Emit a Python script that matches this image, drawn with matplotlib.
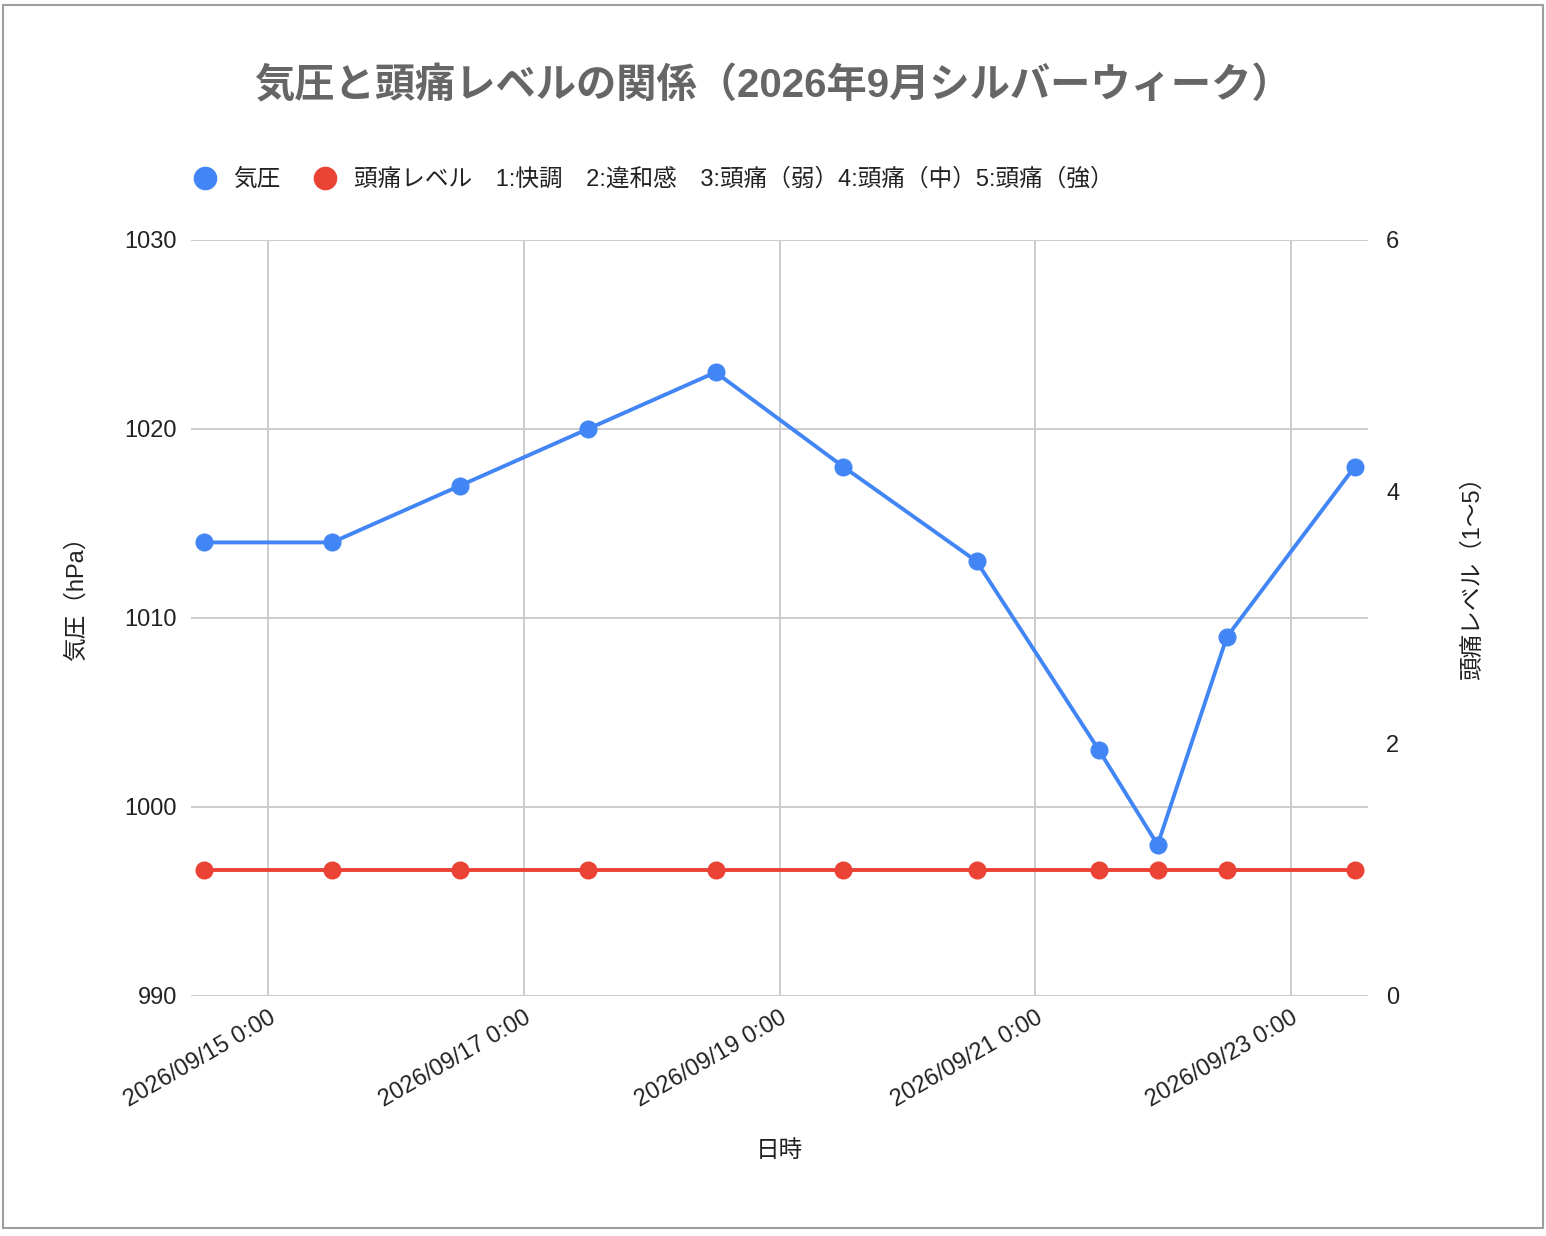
import matplotlib
matplotlib.use("Agg")
import matplotlib.pyplot as plt
import matplotlib.dates as mdates
from matplotlib.lines import Line2D
from matplotlib.patches import Rectangle
from matplotlib.ticker import FuncFormatter, MultipleLocator
import pandas as pd

plt.rcParams['font.family'] = ['Liberation Sans', 'Noto Sans CJK JP', 'DejaVu Sans']

# ---- data ----
timestamps = ["2026-09-14 12:00", "2026-09-15 12:00", "2026-09-16 12:00", "2026-09-17 12:00",
              "2026-09-18 12:00", "2026-09-19 12:00", "2026-09-20 13:00", "2026-09-21 12:00",
              "2026-09-21 23:00", "2026-09-22 12:00", "2026-09-23 12:00"]
pressure = [1014, 1014, 1017, 1020, 1023, 1018, 1013, 1003, 998, 1009, 1018]
headache = [1, 1, 1, 1, 1, 1, 1, 1, 1, 1, 1]
x_ticks = ["2026-09-15", "2026-09-17", "2026-09-19", "2026-09-21", "2026-09-23"]

title = "気圧と頭痛レベルの関係（2026年9月シルバーウィーク）"
label_pressure = "気圧"
label_headache = "頭痛レベル　1:快調　2:違和感　3:頭痛（弱）4:頭痛（中）5:頭痛（強）"
xlabel = "日時"
ylabel_left = "気圧（hPa）"
ylabel_right = "頭痛レベル（1〜5）"

BLUE = "#4285F4"
RED = "#EA4335"
GRID = "#cccccc"
FS = 17

t = pd.to_datetime(timestamps)
ticks = pd.to_datetime(x_ticks)

W, H = 1546, 1236
fig = plt.figure(figsize=(W / 100, H / 100), dpi=100)
fig.patch.set_facecolor("white")

# chart frame
fig.patches.append(Rectangle((3 / W, 1 - 1228 / H), 1540 / W, 1223 / H,
                             transform=fig.transFigure, fill=False,
                             edgecolor="#9e9e9e", lw=1.5))

ax = fig.add_axes([191 / W, 1 - 996 / H, 1177 / W, 756 / H])
ax2 = ax.twinx()

ax.plot(t, pressure, color=BLUE, lw=2.8, marker="o", markersize=12, zorder=3)
ax2.plot(t, headache, color=RED, lw=2.8, marker="o", markersize=12, zorder=3)

pad = pd.Timedelta(hours=2.5)
ax.set_xlim(t.min() - pad, t.max() + pad)
ax.set_ylim(990, 1030)
ax.yaxis.set_major_locator(MultipleLocator(10))
ax2.set_ylim(0, 6)
ax2.yaxis.set_major_locator(MultipleLocator(2))

ax.set_xticks(ticks)
ax.xaxis.set_major_formatter(FuncFormatter(
    lambda v, p: (lambda d: f"{d:%Y/%m/%d} {d.hour}:{d:%M}")(mdates.num2date(v))))

ax.grid(True, color=GRID, lw=1.4)
ax.set_axisbelow(True)
for a in (ax, ax2):
    for s in a.spines.values():
        s.set_visible(False)

ax.tick_params(axis="x", length=0, pad=8, labelsize=FS, labelcolor="#222222")
ax.tick_params(axis="y", length=0, pad=10, labelsize=FS, labelcolor="#222222")
ax2.tick_params(axis="y", length=0, pad=13, labelsize=FS, labelcolor="#222222")
for lab in ax.get_xticklabels():
    lab.set_rotation(30)
    lab.set_ha("right")
    lab.set_rotation_mode("anchor")

ax.set_xlabel(xlabel, fontsize=FS, color="#222222")
ax.xaxis.set_label_coords(0.5, -0.19)
ax.set_ylabel(ylabel_left, fontsize=FS, color="#222222")
ax.yaxis.set_label_coords(-0.088, 0.533)
ax2.set_ylabel(ylabel_right, fontsize=FS, color="#222222")
ax2.yaxis.set_label_coords(1.079, 0.561)

fig.text(0.5, 1 - 86 / H, title, ha="center", va="center", fontsize=29,
         fontweight="bold", color="#666666")

handles = [Line2D([], [], ls="none", marker="o", markersize=16, color=BLUE),
           Line2D([], [], ls="none", marker="o", markersize=16, color=RED)]
fig.legend(handles, [label_pressure, label_headache], loc="center left",
           bbox_to_anchor=(193 / W, 1 - 180 / H), ncol=2, frameon=False,
           fontsize=FS, handlelength=1.0, handletextpad=0.7, columnspacing=1.4,
           borderpad=0, borderaxespad=0, labelcolor="#222222")

fig.savefig("out.png", dpi=100, facecolor="white")
